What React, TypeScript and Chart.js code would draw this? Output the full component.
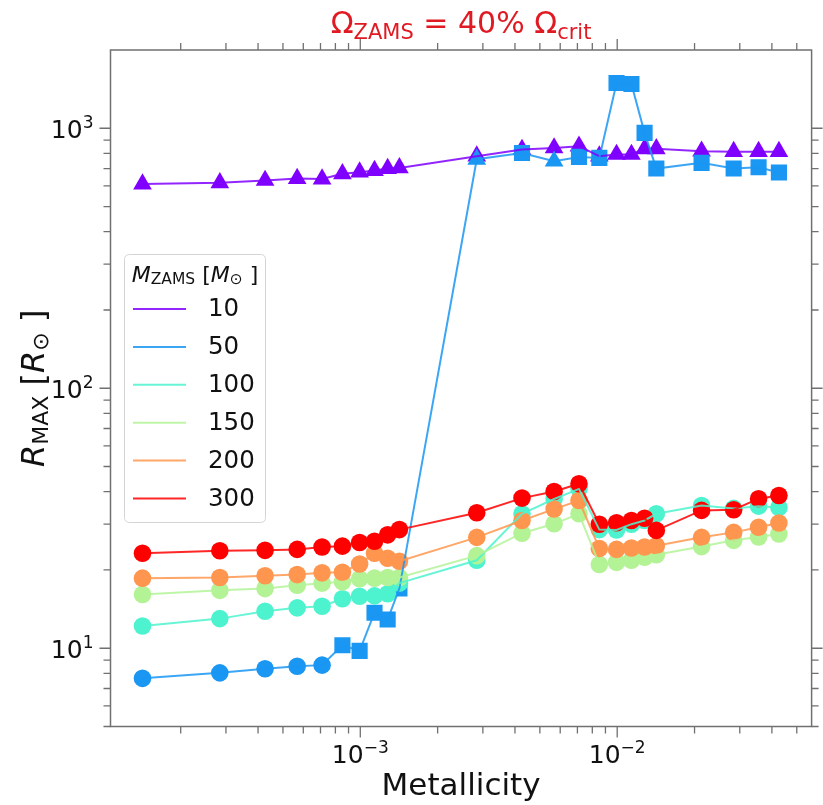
import React, { useEffect, useRef } from "react";
import { Chart, registerables } from "chart.js";

Chart.register(...registerables);

// ---------- DATA ----------
const METALLICITY = [
  0.000142, 0.000284, 0.000426, 0.000568, 0.00071, 0.000852, 0.000994, 0.001136, 0.001278, 0.00142,
  0.00284, 0.00426, 0.00568, 0.0071, 0.00852, 0.00994, 0.01136, 0.01278, 0.0142, 0.0213, 0.0284,
  0.0355, 0.0426,
];

const MASS_LABELS = ["10", "50", "100", "150", "200", "300"];

const R_10 = [610, 617, 630, 641, 638, 668, 678, 688, 700, 704, 781, 829, 840, 853, 781, 793, 793, 834, 834, 816, 813, 813, 813];
const R_50 = [7.66, 8.04, 8.34, 8.53, 8.61, 10.27, 9.77, 13.7, 12.9, 17.0, 760, 803, 747, 776, 769, 1493, 1480, 960, 700, 736, 700, 708, 676];
const R_100 = [12.18, 13.0, 13.87, 14.3, 14.5, 15.5, 15.85, 15.9, 16.2, 17.8, 21.8, 32.9, 37.5, 41.0, 28.6, 28.5, 30.0, 31.0, 32.9, 35.4, 34.5, 35.2, 34.8];
const R_150 = [16.1, 16.7, 16.96, 17.46, 17.8, 18.0, 18.5, 18.6, 18.7, 18.7, 22.7, 27.7, 30.1, 32.9, 21.0, 21.4, 21.8, 22.4, 22.9, 24.6, 26.0, 26.8, 27.5];
const R_200 = [18.6, 18.7, 19.0, 19.2, 19.5, 19.6, 21.1, 23.2, 22.2, 21.6, 26.7, 31.0, 34.3, 37.0, 24.2, 24.0, 24.3, 24.5, 24.8, 26.7, 27.9, 29.2, 30.3];
const R_300 = [23.2, 23.7, 23.8, 24.0, 24.5, 24.7, 25.5, 25.8, 27.3, 28.6, 33.2, 37.8, 40.1, 42.9, 30.0, 30.4, 31.0, 31.6, 28.4, 33.9, 34.1, 37.6, 38.7];

// marker shape per point for the 50 Msun track
const MARKERS_50 = [
  "circle", "circle", "circle", "circle", "circle",
  "rect", "rect", "rect", "rect", "rect",
  "triangle", "rect", "triangle",
  "rect", "rect", "rect", "rect", "rect", "rect", "rect", "rect", "rect", "rect",
];

const X_MAJOR_TICKS = [1e-3, 1e-2];
const X_MAJOR_LABELS = ["−3", "−2"];
const Y_MAJOR_TICKS = [10, 100, 1000];
const Y_MAJOR_LABELS = ["1", "2", "3"];

// ---------- STYLE ----------
const FONT = "'DejaVu Sans', sans-serif";
const COLORS: [number, number, number][] = [
  [128, 0, 255],
  [26, 150, 243],
  [77, 243, 206],
  [179, 243, 150],
  [255, 150, 79],
  [255, 0, 0],
];
const rgba = (c: [number, number, number], a: number) => `rgba(${c[0]},${c[1]},${c[2]},${a})`;
const X_MIN = 1.066e-4;
const X_MAX = 0.0571;
const Y_MIN = 5;
const Y_MAX = 2000;
const AXIS_COLOR = "#707070";
const TITLE_COLOR = "#e01a22";

type Run = { t: string; font: string; dy: number };

function runsWidth(ctx: CanvasRenderingContext2D, runs: Run[]) {
  let w = 0;
  for (const r of runs) {
    ctx.font = r.font;
    w += ctx.measureText(r.t).width;
  }
  return w;
}

function drawRuns(ctx: CanvasRenderingContext2D, runs: Run[], x: number, y: number, align: "left" | "center" | "right") {
  const w = runsWidth(ctx, runs);
  let cx = align === "center" ? x - w / 2 : align === "right" ? x - w : x;
  ctx.textAlign = "left";
  ctx.textBaseline = "alphabetic";
  for (const r of runs) {
    ctx.font = r.font;
    ctx.fillText(r.t, cx, y + r.dy);
    cx += ctx.measureText(r.t).width;
  }
}

const decorPlugin = {
  id: "decor",
  afterDraw(chart: any) {
    const ctx: CanvasRenderingContext2D = chart.ctx;
    const { left, right, top, bottom } = chart.chartArea;
    const xs = chart.scales.x;
    const ys = chart.scales.y;
    ctx.save();

    // frame
    ctx.strokeStyle = AXIS_COLOR;
    ctx.lineWidth = 1.5;
    ctx.strokeRect(left, top, right - left, bottom - top);

    // ticks
    ctx.lineWidth = 1.3;
    const MAJ = 11;
    const MIN = 7;
    const xTick = (v: number, len: number) => {
      const px = xs.getPixelForValue(v);
      ctx.beginPath();
      ctx.moveTo(px, bottom);
      ctx.lineTo(px, bottom + len);
      ctx.moveTo(px, top);
      ctx.lineTo(px, top - len);
      ctx.stroke();
    };
    const yTick = (v: number, len: number) => {
      const py = ys.getPixelForValue(v);
      ctx.beginPath();
      ctx.moveTo(left, py);
      ctx.lineTo(left - len, py);
      ctx.moveTo(right, py);
      ctx.lineTo(right + len, py);
      ctx.stroke();
    };
    for (let d = -5; d <= -1; d++) {
      for (let m = 2; m <= 9; m++) {
        const v = m * Math.pow(10, d);
        if (v > X_MIN && v < X_MAX) xTick(v, MIN);
      }
    }
    for (let d = 0; d <= 3; d++) {
      for (let m = 2; m <= 9; m++) {
        const v = m * Math.pow(10, d);
        if (v >= Y_MIN && v < Y_MAX) yTick(v, MIN);
      }
    }
    X_MAJOR_TICKS.forEach((v) => xTick(v, MAJ));
    Y_MAJOR_TICKS.forEach((v) => yTick(v, MAJ));

    // tick labels
    ctx.fillStyle = "#111";
    const big = `25px ${FONT}`;
    const sup = `17px ${FONT}`;
    X_MAJOR_TICKS.forEach((v, i) => {
      const px = xs.getPixelForValue(v);
      drawRuns(ctx, [
        { t: "10", font: big, dy: 0 },
        { t: X_MAJOR_LABELS[i], font: sup, dy: -10 },
      ], px, bottom + 36, "center");
    });
    Y_MAJOR_TICKS.forEach((v, i) => {
      const py = ys.getPixelForValue(v);
      drawRuns(ctx, [
        { t: "10", font: big, dy: 0 },
        { t: Y_MAJOR_LABELS[i], font: sup, dy: -10 },
      ], left - 17, py + 9.5, "right");
    });

    // axis titles
    ctx.fillStyle = "#111";
    drawRuns(ctx, [{ t: "Metallicity", font: `31px ${FONT}`, dy: 0 }], (left + right) / 2, 795, "center");

    ctx.save();
    ctx.translate(44, (top + bottom) / 2);
    ctx.rotate(-Math.PI / 2);
    drawRuns(ctx, [
      { t: "R", font: `italic 32px ${FONT}`, dy: 0 },
      { t: "MAX", font: `22px ${FONT}`, dy: 4 },
      { t: " [", font: `32px ${FONT}`, dy: 0 },
      { t: "R", font: `italic 32px ${FONT}`, dy: 0 },
      { t: "⊙", font: `22px ${FONT}`, dy: 4 },
      { t: " ]", font: `32px ${FONT}`, dy: 0 },
    ], 0, 0, "center");
    ctx.restore();

    // title
    ctx.fillStyle = TITLE_COLOR;
    drawRuns(ctx, [
      { t: "Ω", font: `30px ${FONT}`, dy: 0 },
      { t: "ZAMS", font: `21px ${FONT}`, dy: 6 },
      { t: " = 40% Ω", font: `30px ${FONT}`, dy: 0 },
      { t: "crit", font: `21px ${FONT}`, dy: 6 },
    ], (left + right) / 2, 33, "center");

    // legend
    const bx = 124.5, by = 254.5, bw = 141, bh = 268, br = 5;
    ctx.beginPath();
    ctx.moveTo(bx + br, by);
    ctx.lineTo(bx + bw - br, by);
    ctx.quadraticCurveTo(bx + bw, by, bx + bw, by + br);
    ctx.lineTo(bx + bw, by + bh - br);
    ctx.quadraticCurveTo(bx + bw, by + bh, bx + bw - br, by + bh);
    ctx.lineTo(bx + br, by + bh);
    ctx.quadraticCurveTo(bx, by + bh, bx, by + bh - br);
    ctx.lineTo(bx, by + br);
    ctx.quadraticCurveTo(bx, by, bx + br, by);
    ctx.closePath();
    ctx.fillStyle = "rgba(255,255,255,0.85)";
    ctx.fill();
    ctx.strokeStyle = "#d4d4d4";
    ctx.lineWidth = 1;
    ctx.stroke();

    ctx.fillStyle = "#111";
    drawRuns(ctx, [
      { t: "M", font: `italic 22px ${FONT}`, dy: 0 },
      { t: "ZAMS", font: `15.5px ${FONT}`, dy: 2 },
      { t: " [", font: `22px ${FONT}`, dy: 0 },
      { t: "M", font: `italic 22px ${FONT}`, dy: 0 },
      { t: "⊙", font: `15.5px ${FONT}`, dy: 2 },
      { t: " ]", font: `22px ${FONT}`, dy: 0 },
    ], bx + bw / 2, 282, "center");

    MASS_LABELS.forEach((lab, i) => {
      const yy = 309 + i * 37.9;
      ctx.strokeStyle = rgba(COLORS[i], 0.85);
      ctx.lineWidth = 2;
      ctx.beginPath();
      ctx.moveTo(133, yy);
      ctx.lineTo(186, yy);
      ctx.stroke();
      ctx.fillStyle = "#111";
      ctx.font = `24.5px ${FONT}`;
      ctx.textAlign = "left";
      ctx.textBaseline = "middle";
      ctx.fillText(lab, 208, yy + 1);
    });

    ctx.restore();
  },
};

export default function App() {
  const ref = useRef<HTMLCanvasElement | null>(null);

  useEffect(() => {
    if (!ref.current) return;
    const series = [R_10, R_50, R_100, R_150, R_200, R_300];
    const styleFor = (si: number, pi: number) =>
      si === 0 ? "triangle" : si === 1 ? MARKERS_50[pi] : "circle";
    const radiusFor = (s: string) => (s === "triangle" ? 10.8 : s === "rect" ? 11.4 : 8.8);

    const markerSets = series.map((vals, si) => {
      const styles = vals.map((_, pi) => styleFor(si, pi));
      return {
        label: MASS_LABELS[si] + " markers",
        data: METALLICITY.map((x, i) => ({ x, y: vals[i] })),
        showLine: false,
        pointStyle: styles,
        pointRadius: styles.map(radiusFor),
        pointBackgroundColor: rgba(COLORS[si], 1),
        pointBorderColor: rgba(COLORS[si], 1),
        pointBorderWidth: 0,
        order: 20 - si,
      };
    });
    const lineSets = series.map((vals, si) => ({
      label: MASS_LABELS[si],
      data: METALLICITY.map((x, i) => ({ x, y: vals[i] })),
      showLine: true,
      borderColor: rgba(COLORS[si], 0.85),
      borderWidth: 2,
      pointRadius: 0,
      tension: 0,
      fill: false,
      order: 10 - si,
    }));

    const chart = new Chart(ref.current, {
      type: "scatter",
      data: { datasets: [...markerSets, ...lineSets] as any },
      options: {
        animation: false,
        responsive: false,
        events: [],
        layout: { padding: { left: 110.5, right: 1.5, top: 50, bottom: 78.5 } },
        plugins: { legend: { display: false }, title: { display: false }, tooltip: { enabled: false } },
        scales: {
          x: { type: "logarithmic", min: X_MIN, max: X_MAX, display: false },
          y: { type: "logarithmic", min: Y_MIN, max: Y_MAX, display: false },
        },
      } as any,
      plugins: [decorPlugin],
    });
    return () => chart.destroy();
  }, []);

  return (
    <div style={{ position: "fixed", left: 0, top: 0, width: 823, height: 805, background: "#fff" }}>
      <canvas ref={ref} width={823} height={805} style={{ display: "block" }} />
    </div>
  );
}
